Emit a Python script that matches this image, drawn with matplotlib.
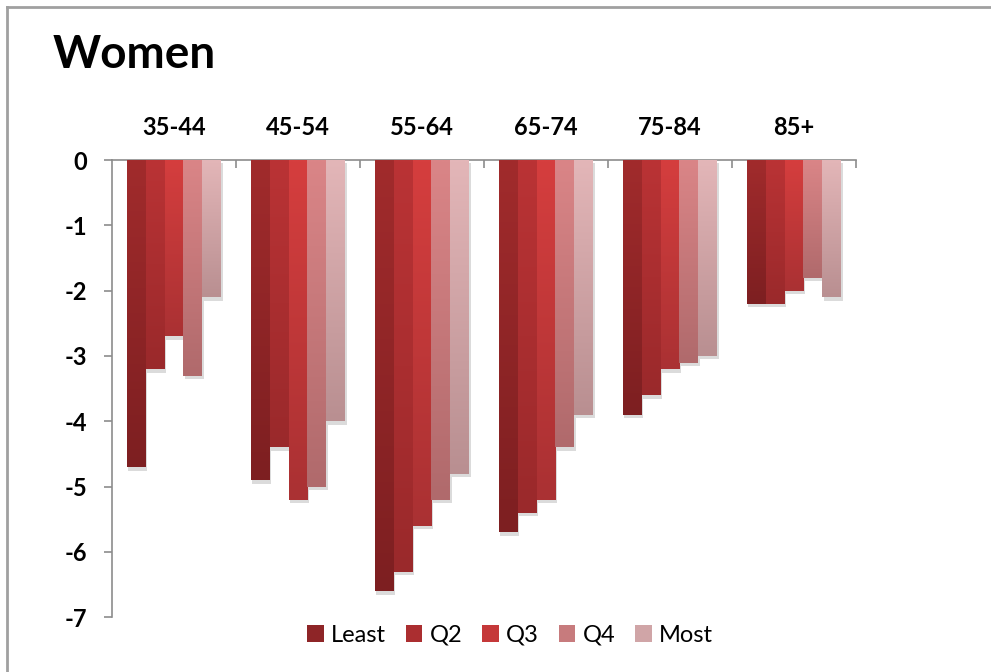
import numpy as np
import matplotlib
matplotlib.use("Agg")
import matplotlib.pyplot as plt
import matplotlib.patheffects as pe
from matplotlib.patches import Patch
from matplotlib.lines import Line2D

# valores
groups = ['35-44', '45-54', '55-64', '65-74', '75-84', '85+']
least = [-4.7, -4.9, -6.6, -5.7, -3.9, -2.2]
q2 = [-3.2, -4.4, -6.3, -5.4, -3.6, -2.2]
q3 = [-2.7, -5.2, -5.6, -5.2, -3.2, -2.0]
q4 = [-3.3, -5.0, -5.2, -4.4, -3.1, -1.8]
most = [-2.1, -4.0, -4.8, -3.9, -3.0, -2.1]
series_names = ['Least', 'Q2', 'Q3', 'Q4', 'Most']
yticks = [0, -1, -2, -3, -4, -5, -6, -7]

# cores do topo e da base de cada barra (gradiente)
top_colors = ['#a12b2c', '#ba3335', '#d53e3e', '#da8587', '#e3b6b8']
bottom_colors = ['#7d1f21', '#9a292b', '#aa3133', '#b06a6c', '#b98f91']
legend_colors = ['#8e2527', '#ab2e30', '#c53839', '#c77b7d', '#d0a5a7']

plt.rcParams['font.family'] = ['Lato', 'DejaVu Sans']

fig = plt.figure(figsize=(9.91, 6.72), dpi=100)
ax = fig.add_axes([112 / 991, 1 - 617.3 / 672, (856 - 112) / 991, (617.3 - 160) / 672])

data = [least, q2, q3, q4, most]
n = len(data)
group_w = 0.766
bar_w = group_w / n
x = np.arange(len(groups))

for i, vals in enumerate(data):
    pos = x + 0.5 - group_w / 2 + bar_w * (i + 0.5)
    bars = ax.bar(pos, vals, width=bar_w, color=legend_colors[i], zorder=2,
                  path_effects=[pe.SimplePatchShadow(offset=(0.8, -2.5), shadow_rgbFace='#888888', alpha=0.3),
                                pe.Normal()])
    c0 = np.array(matplotlib.colors.to_rgb(top_colors[i]))
    c1 = np.array(matplotlib.colors.to_rgb(bottom_colors[i]))
    t = np.linspace(0, 1, 100)[:, None]
    grad = (c0 * (1 - t) + c1 * t)[:, None, :]
    for b in bars:
        x0, w, h = b.get_x(), b.get_width(), b.get_height()
        ax.imshow(grad, extent=(x0, x0 + w, h, 0), origin='upper', aspect='auto',
                  interpolation='bilinear', zorder=3)

ax.set_xlim(0, len(groups))
ax.set_ylim(-7, 0)

# eixo x no topo
ax.xaxis.tick_top()
ax.set_xticks(np.arange(1, len(groups) + 1))
ax.set_xticklabels([])
ax.tick_params(axis='x', which='major', direction='in', length=6, color='#8c8c8c', width=1.2)
ax.set_xticks(x + 0.5, minor=True)
ax.set_xticklabels(groups, minor=True, fontsize=17, fontweight='bold')
ax.tick_params(axis='x', which='minor', length=0, pad=15, top=True, labeltop=True)

ax.set_yticks(yticks)
ax.set_yticklabels([str(v) for v in yticks], fontsize=17, fontweight='bold')
ax.tick_params(axis='y', direction='out', length=6, color='#8c8c8c', width=1.2, pad=12)

for s in ['right', 'bottom']:
    ax.spines[s].set_visible(False)
for s in ['left', 'top']:
    ax.spines[s].set_color('#8c8c8c')
    ax.spines[s].set_linewidth(1.2)

fig.text(53 / 991, 1 - 68 / 672, 'Women', fontsize=33, fontweight='bold', va='baseline', ha='left')

handles = [Patch(facecolor=c, edgecolor='none') for c in legend_colors]
fig.legend(handles, series_names, loc='center', bbox_to_anchor=(510 / 991, 1 - 635 / 672), ncol=5,
           frameon=False, fontsize=17, handlelength=0.7, handleheight=0.7, handletextpad=0.3,
           columnspacing=0.85)

# moldura (apenas topo e esquerda visíveis)
fig.add_artist(Line2D([6.5 / 991, 1], [1 - 6.5 / 672] * 2, transform=fig.transFigure, color='#a0a0a0', lw=2))
fig.add_artist(Line2D([6.5 / 991] * 2, [0, 1 - 6.5 / 672], transform=fig.transFigure, color='#a0a0a0', lw=2))

fig.savefig('out.png', dpi=100)
